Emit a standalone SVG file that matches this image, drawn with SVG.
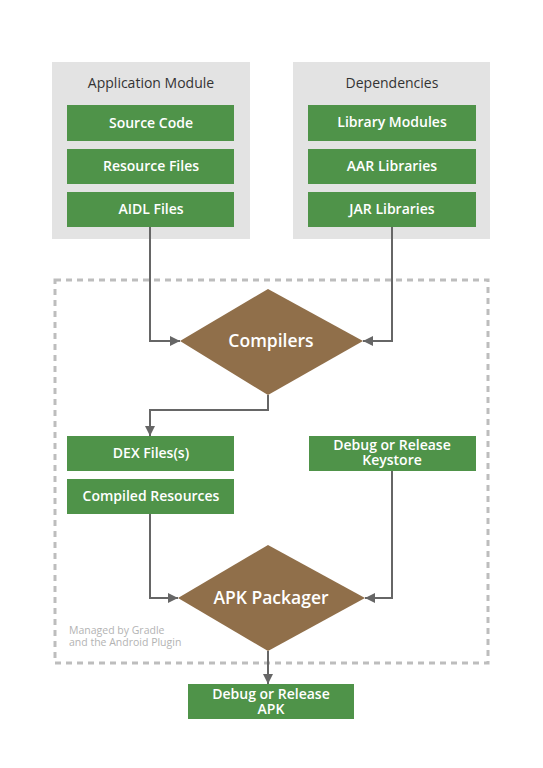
<svg xmlns="http://www.w3.org/2000/svg" width="543" height="768" viewBox="0 0 543 768">
<defs>
<style>
.grp{fill:#e3e3e3}
.box{fill:#4f9349}
.dia{fill:#906f4a}
.t{font-family:"Open Sans","Noto Sans",sans-serif;font-weight:600;fill:#fff;font-size:14px;text-anchor:middle}
.h{font-family:"Open Sans","Noto Sans",sans-serif;fill:#333;font-size:14px;text-anchor:middle}
.d{font-family:"Open Sans","Noto Sans",sans-serif;font-weight:600;fill:#fff;font-size:17.5px;text-anchor:middle}
.note{font-family:"Open Sans","Noto Sans",sans-serif;fill:#b3b3b3;font-size:10.5px}
.c{fill:none;stroke:#666;stroke-width:2}
</style>
<marker id="ah" viewBox="0 0 10 10" refX="10" refY="5" markerWidth="10" markerHeight="10" markerUnits="userSpaceOnUse" orient="auto">
<path d="M0,0 L10,5 L0,10 z" fill="#666"/>
</marker>
</defs>
<rect width="543" height="768" fill="#fff"/>
<g id="managed">
<rect x="55" y="280" width="433" height="383" fill="none" stroke="#bdbdbd" stroke-width="3" stroke-dasharray="6 5"/>
<text class="note" x="69" y="634">Managed by Gradle<tspan x="69" dy="12">and the Android Plugin</tspan></text>
</g>
<g id="app-module">
<rect class="grp" x="52" y="62" width="198" height="177"/>
<text class="h" x="151" y="88">Application Module</text>
</g>
<g id="source-code"><rect class="box" x="67" y="105" width="167" height="36"/><text class="t" x="151" y="128">Source Code</text></g>
<g id="resource-files"><rect class="box" x="67" y="149" width="167" height="35"/><text class="t" x="151" y="171">Resource Files</text></g>
<g id="aidl-files"><rect class="box" x="67" y="192" width="167" height="35"/><text class="t" x="151" y="214">AIDL Files</text></g>
<g id="dependencies">
<rect class="grp" x="293" y="62" width="197" height="177"/>
<text class="h" x="392" y="88">Dependencies</text>
</g>
<g id="library-modules"><rect class="box" x="308" y="105" width="168" height="36"/><text class="t" x="392" y="127">Library Modules</text></g>
<g id="aar-libraries"><rect class="box" x="308" y="149" width="168" height="35"/><text class="t" x="392" y="171">AAR Libraries</text></g>
<g id="jar-libraries"><rect class="box" x="308" y="192" width="168" height="35"/><text class="t" x="392" y="214">JAR Libraries</text></g>
<g id="compilers"><path class="dia" d="M268,289 L363,341 L268,395 L180,341 z"/><text class="d" x="271" y="347">Compilers</text></g>
<g id="dex-files"><rect class="box" x="67" y="436" width="167" height="35"/><text class="t" x="151" y="458">DEX Files(s)</text></g>
<g id="compiled-resources"><rect class="box" x="67" y="479" width="167" height="35"/><text class="t" x="151" y="501">Compiled Resources</text></g>
<g id="keystore"><rect class="box" x="309" y="436" width="167" height="35"/><text class="t" x="392" y="450">Debug or Release<tspan x="392" dy="15">Keystore</tspan></text></g>
<g id="apk-packager"><path class="dia" d="M268,545 L365,598 L268,651 L178,598 z"/><text class="d" x="271" y="604">APK Packager</text></g>
<g id="apk"><rect class="box" x="188" y="684" width="166" height="35"/><text class="t" x="271" y="699">Debug or Release<tspan x="271" dy="15">APK</tspan></text></g>
<g id="connectors">
<path class="c" d="M150,227 V341 H180" marker-end="url(#ah)"/>
<path class="c" d="M392,227 V341 H363" marker-end="url(#ah)"/>
<path class="c" d="M268,395 V410 H150 V436" marker-end="url(#ah)"/>
<path class="c" d="M150,514 V598 H178" marker-end="url(#ah)"/>
<path class="c" d="M392,471 V598 H365" marker-end="url(#ah)"/>
<path class="c" d="M268,651 V684" marker-end="url(#ah)"/>
</g>
</svg>
